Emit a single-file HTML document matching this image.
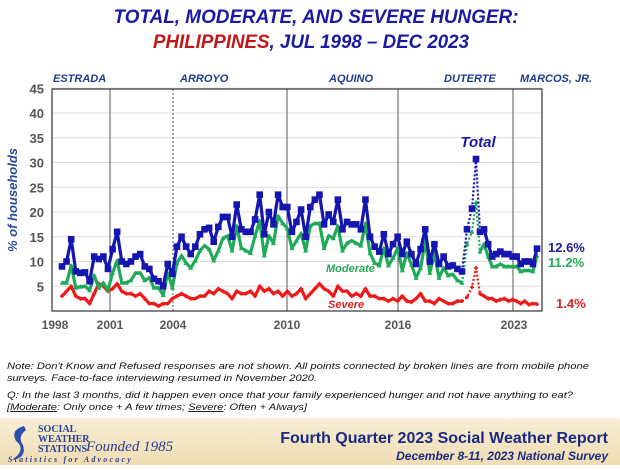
<!DOCTYPE html>
<html><head><meta charset="utf-8"><style>
html,body{margin:0;padding:0;background:#fff;}
body{width:620px;height:465px;overflow:hidden;position:relative;font-family:"Liberation Sans",sans-serif;}
</style></head><body>
<svg id="s" width="620" height="465" viewBox="0 0 620 465" xmlns="http://www.w3.org/2000/svg" font-family="Liberation Sans, sans-serif">
<defs><linearGradient id="bg" x1="0" y1="0" x2="0" y2="1"><stop offset="0" stop-color="#f8eed6"/><stop offset="1" stop-color="#efdcb2"/></linearGradient></defs>
<text x="316" y="23" text-anchor="middle" font-size="19" font-weight="bold" font-style="italic" fill="#1a1aa0" textLength="405" lengthAdjust="spacingAndGlyphs">TOTAL, MODERATE, AND SEVERE HUNGER:</text>
<text x="311" y="48" text-anchor="middle" font-size="19" font-weight="bold" font-style="italic" fill="#1a1aa0" textLength="316" lengthAdjust="spacingAndGlyphs"><tspan fill="#c01818">PHILIPPINES</tspan>, JUL 1998 – DEC 2023</text>
<g font-size="11" font-weight="bold" font-style="italic" fill="#1f3c8c">
<text x="53" y="82">ESTRADA</text><text x="180" y="82">ARROYO</text><text x="329" y="82">AQUINO</text><text x="444" y="82">DUTERTE</text><text x="520" y="82">MARCOS, JR.</text>
</g>
<g id="grid"></g>
<g id="series"></g>
<rect x="52" y="89" width="490" height="222" fill="none" stroke="#333" stroke-width="1.2"/>
<text transform="translate(17,200) rotate(-90)" text-anchor="middle" font-size="13" font-weight="bold" font-style="italic" fill="#2a4a9a">% of households</text>
<g font-size="12" font-weight="bold" fill="#555" text-anchor="middle">
<text x="55" y="329">1998</text><text x="110" y="329">2001</text><text x="173" y="329">2004</text><text x="287" y="329">2010</text><text x="398" y="329">2016</text><text x="514" y="329">2023</text>
</g>
<text x="478" y="147" text-anchor="middle" font-size="15" font-weight="bold" font-style="italic" fill="#1a1aa0">Total</text>
<text x="326" y="272" font-size="11" font-weight="bold" font-style="italic" fill="#22aa55">Moderate</text>
<text x="328" y="308" font-size="11" font-weight="bold" font-style="italic" fill="#e02020">Severe</text>
<g font-size="13" font-weight="bold">
<text x="548" y="252" fill="#1a1aa0">12.6%</text><text x="548" y="267" fill="#22aa55">11.2%</text><text x="556" y="308" fill="#e02020">1.4%</text>
</g>
<g font-size="9.5" font-style="italic" fill="#111" lengthAdjust="spacingAndGlyphs">
<text x="7" y="369" textLength="582" lengthAdjust="spacingAndGlyphs">Note: Don't Know and Refused responses are not shown. All points connected by broken lines are from mobile phone</text>
<text x="7" y="381" textLength="310" lengthAdjust="spacingAndGlyphs">surveys. Face-to-face interviewing resumed in November 2020.</text>
<text x="7" y="398" textLength="566" lengthAdjust="spacingAndGlyphs">Q: In the last 3 months, did it happen even once that your family experienced hunger and not have anything to eat?</text>
<text x="7" y="410" textLength="300" lengthAdjust="spacingAndGlyphs">[<tspan text-decoration="underline">Moderate</tspan>: Only once + A few times; <tspan text-decoration="underline">Severe</tspan>: Often + Always]</text>
</g>
<rect x="0" y="418" width="620" height="47" fill="url(#bg)"/>
<path d="M24 426 q-14 4 -8 15 q8 6 2 14 l-6 5 q15 -2 11 -15 q-6 -8 3 -15 z" fill="#2b4fa8"/>
<g font-family="Liberation Serif, serif" font-weight="bold" fill="#2b3f8f" font-size="10">
<text x="38" y="432">SOCIAL</text><text x="38" y="442">WEATHER</text><text x="38" y="452">STATIONS</text>
</g>
<text x="86" y="451" font-family="Liberation Serif, serif" font-style="italic" font-size="15" fill="#2b3f8f">Founded 1985</text>
<text x="8" y="462" font-family="Liberation Serif, serif" font-style="italic" font-weight="bold" font-size="8" fill="#2b3f8f" letter-spacing="2.2">Statistics for Advocacy</text>
<text x="608" y="443" text-anchor="end" font-size="16" font-weight="bold" fill="#1a2a80">Fourth Quarter 2023 Social Weather Report</text>
<text x="608" y="460" text-anchor="end" font-size="12" font-weight="bold" font-style="italic" fill="#1a2a80">December 8-11, 2023 National Survey</text>
</svg>
<script>
var NS="http://www.w3.org/2000/svg";
function el(p,t,a){var e=document.createElementNS(NS,t);for(var k in a)e.setAttribute(k,a[k]);p.appendChild(e);return e;}
function Y(v){return 311-v*4.95;}
var g=document.getElementById('grid');
for(var v=5;v<=45;v+=5){el(g,'line',{x1:52,x2:542,y1:Y(v),y2:Y(v),stroke:'#ddd','stroke-width':1});
var t=el(g,'text',{x:44,y:Y(v)+5,'text-anchor':'end','font-size':13,'font-weight':'bold',fill:'#555'});t.textContent=v;}
[[110,0],[173,1],[287,0],[398,0],[513,0]].forEach(function(a){el(g,'line',{x1:a[0],x2:a[0],y1:89,y2:311,stroke:'#555','stroke-width':1,'stroke-dasharray':a[1]?'2,2':'none'});});
var T=[9,10,14.5,8,7.7,7.8,6,11,10.5,11,8.5,12.5,16,10,9.5,10,11,11.5,9,8.5,6.5,6,5,9.5,7.5,13,15,13,11.5,13,15.5,16.5,16.8,14,17,19,19,15,21.5,16.5,16,16,18.5,23.5,15.5,20,17.5,23.5,21,21,16,18,20.5,15,21,22.5,23.5,17.5,19.5,18,22.5,16.5,18,17.5,17.5,16.5,22.5,15,13,12,15.5,11.5,13.5,15,11.5,14,11.5,9.5,12.5,16.5,10,13.5,9.5,11,9,9.2,8.5,8];
var S=[3,4,5,3,2.5,2.5,1.5,3.5,5.5,5,4,4.5,5.5,4,3.5,3.5,3,3.5,2.5,1.5,1.5,1,1.5,1.5,2.5,3,3.5,3,2.5,2.5,3,3,4,3.5,4.5,4,3.5,2.5,4,3.5,3.5,4,3,5,4,4.5,3.5,4,3,4,3,3.5,4.5,2.5,3.5,4.5,5.5,4.5,4,3,5,4,4,3,3.5,3,4.5,3,3,2.5,2.5,2,2.5,2,3,2,1.8,2.5,3.5,2,2,1.5,2.5,2,1.5,1.5,2,2];
var pre=T.length,xs=[];for(var i=0;i<pre;i++)xs.push(62+i*400/(pre-1));
var DT=[16.5,20.7,30.7],DS=[2.8,4.8,8.7],DX=[467,472,476];
var PT=[16,16.5,13.5,11,11.5,12,11.5,11.5,11,11,9.5,10,10,9.5,12.6],PS=[3.5,3,2.5,2.5,2,2.3,2.5,2,2.3,2,1.5,2,1.3,1.5,1.4],PX=[];
for(i=0;i<15;i++)PX.push(480+i*57/14);
var M=T.map(function(t,i){return t-S[i]-0.3;}),DM=[13.5,16,22],PM=[12,13.5,11,9,9,9.5,9,9,9,9,8,8.2,8.2,8,11.2];
var sg=document.getElementById('series');
function line(x,y,c,dash){el(sg,'polyline',{points:x.map(function(a,i){return a+','+Y(y[i]);}).join(' '),fill:'none',stroke:c,'stroke-width':dash?2.2:3.2,'stroke-dasharray':dash?'2,2':'none','stroke-linejoin':'round'});}
function marks(x,y,c,type){x.forEach(function(a,i){var yy=Y(y[i]);
if(type==0)el(sg,'rect',{x:a-3.3,y:yy-3.3,width:6.6,height:6.6,fill:c});
else if(type==1)el(sg,'path',{d:'M'+(a-2.5)+' '+(yy+2)+'L'+(a+2.5)+' '+(yy+2)+'L'+a+' '+(yy-2.5)+'Z',fill:c});
else el(sg,'path',{d:'M'+(a-2)+' '+yy+'h4M'+a+' '+(yy-2)+'v4',stroke:c,'stroke-width':1.5});});}
function series(a,d,p,c,type){var lx=xs[pre-1];
line(xs,a,c);line([lx].concat(DX).concat([PX[0]]),[a[pre-1]].concat(d).concat([p[0]]),c,true);line(PX,p,c);
marks(xs,a,c,type);marks(DX,d,c,type);marks(PX,p,c,type);}
series(S,DS,PS,'#f01818',2);
series(M,DM,PM,'#1faa5a',1);
series(T,DT,PT,'#1515b0',0);
</script>
</body></html>
